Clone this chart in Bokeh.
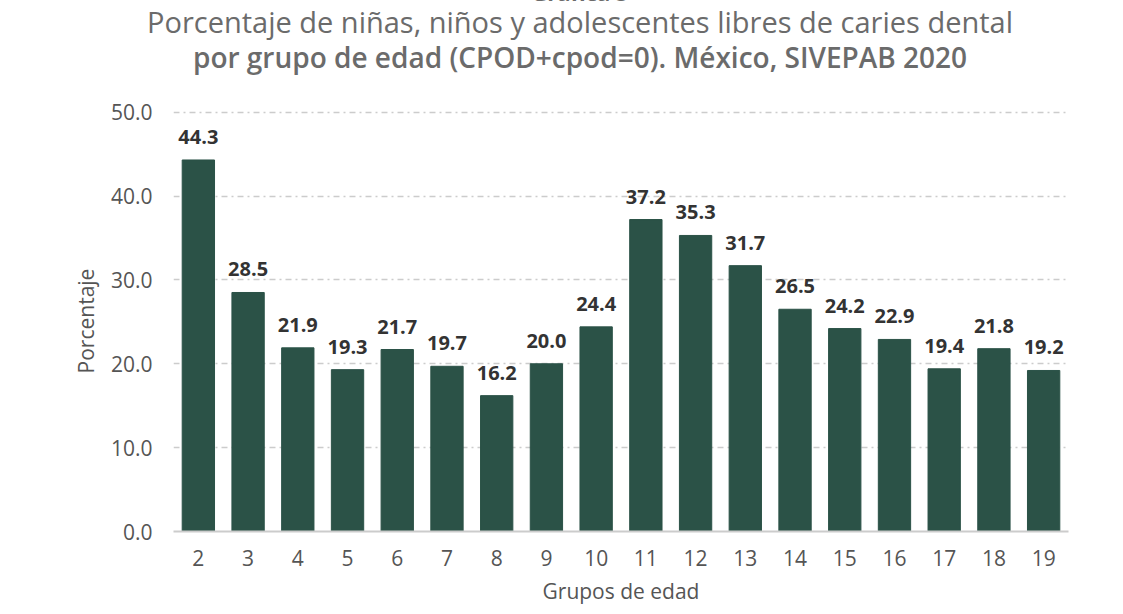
from bokeh.plotting import figure
from bokeh.models import ColumnDataSource, NumeralTickFormatter, Div
from bokeh.layouts import column
from bokeh.core.properties import value
from bokeh.embed import file_html
from bokeh.resources import INLINE

ages = ["2", "3", "4", "5", "6", "7", "8", "9", "10", "11", "12", "13", "14", "15", "16", "17", "18", "19"]
pct = [44.3, 28.5, 21.9, 19.3, 21.7, 19.7, 16.2, 20.0, 24.4, 37.2, 35.3, 31.7, 26.5, 24.2, 22.9, 19.4, 21.8, 19.2]
labels = [f"{v:.1f}" for v in pct]

TITLE0 = "Gráfica 5"
TITLE1 = "Porcentaje de niñas, niños y adolescentes libres de caries dental"
TITLE2 = "por grupo de edad (CPOD+cpod=0). México, SIVEPAB 2020"

FONT = "Open Sans"
src = ColumnDataSource(dict(x=ages, y=pct, lab=labels))

HEAD = 86
FL, FB = 173, 531  # frame left, frame bottom in page pixels

header = Div(
    text=(
        f'<div style="position:relative;width:1123px;height:{HEAD}px;font-family:\'Open Sans\';color:#6b6b6b;">'
        f'<div style="position:absolute;left:0;width:1160px;top:-19px;text-align:center;font-size:22px;line-height:22px;font-weight:700;white-space:nowrap;">{TITLE0}</div>'
        f'<div style="position:absolute;left:0;width:1160px;top:7px;text-align:center;font-size:29px;line-height:30px;font-weight:400;white-space:nowrap;">{TITLE1}</div>'
        f'<div style="position:absolute;left:0;width:1160px;top:42px;text-align:center;font-size:28px;line-height:30px;font-weight:600;white-space:nowrap;">{TITLE2}</div>'
        '</div>'
    ),
    width=1123, height=HEAD, margin=0,
)

p = figure(x_range=ages, y_range=(0, 50.2), width=1123, height=614 - HEAD,
           output_backend="svg", toolbar_location=None, margin=0,
           min_border_left=FL, min_border_right=55, min_border_top=110 - HEAD, min_border_bottom=614 - FB)
p.outline_line_color = None
p.background_fill_color = "white"
p.border_fill_color = "white"

p.vbar(x="x", top="y", width=0.65, color="#2b5247", source=src)
p.text(x="x", y="y", text="lab", source=src, text_align="center", text_baseline="bottom",
       y_offset=-16, text_font=value(FONT), text_font_style="bold", text_font_size="20px",
       text_color="#333333")

p.xgrid.grid_line_color = None
p.ygrid.grid_line_color = "#cccccc"
p.ygrid.grid_line_dash = "6 4 2 4"
p.ygrid.grid_line_width = 1.5

p.yaxis.ticker = [0, 10, 20, 30, 40, 50]
p.yaxis.formatter = NumeralTickFormatter(format="0.0")
p.yaxis.axis_line_color = None
p.yaxis.major_tick_line_color = None
p.yaxis.minor_tick_line_color = None
p.yaxis.major_label_text_font = FONT
p.yaxis.major_label_text_font_size = "21px"
p.yaxis.major_label_text_color = "#555555"
p.yaxis.major_label_standoff = 15
p.yaxis.axis_label = "Porcentaje"
p.yaxis.axis_label_text_font = FONT
p.yaxis.axis_label_text_font_size = "21px"
p.yaxis.axis_label_text_font_style = "normal"
p.yaxis.axis_label_text_color = "#555555"
p.yaxis.axis_label_standoff = 8

p.xaxis.axis_line_color = "#cccccc"
p.xaxis.axis_line_width = 2
p.xaxis.major_tick_line_color = None
p.xaxis.minor_tick_line_color = None
p.xaxis.major_label_text_font = FONT
p.xaxis.major_label_text_font_size = "21px"
p.xaxis.major_label_text_color = "#555555"
p.xaxis.major_label_standoff = 12
p.xaxis.axis_label = "Grupos de edad"
p.xaxis.axis_label_text_font = FONT
p.xaxis.axis_label_text_font_size = "21px"
p.xaxis.axis_label_text_font_style = "normal"
p.xaxis.axis_label_text_color = "#555555"
p.xaxis.axis_label_standoff = 8

layout = column(header, p, spacing=0, margin=0)
open("out.html", "w").write(file_html(layout, INLINE))
